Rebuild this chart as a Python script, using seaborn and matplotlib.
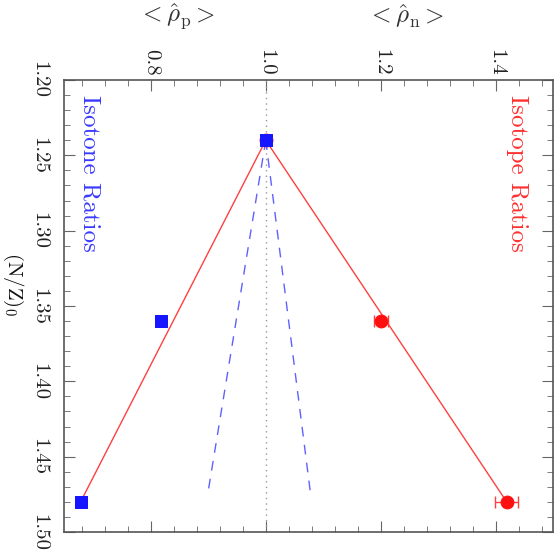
import matplotlib
matplotlib.use("Agg")
import matplotlib.pyplot as plt
import numpy as np
import pandas as pd
import seaborn as sns
from matplotlib.ticker import FixedLocator, MultipleLocator

# datos
nz_pts = [1.24, 1.36, 1.48]
isotone = [1.0, 0.818, 0.678]       # <rho_p>
isotope = [1.0, 1.20, 1.419]        # <rho_n>
isotope_err = [0.0, 0.012, 0.02]

# lineas de ajuste
fit_red_x = [0.678, 1.0, 1.419]
fit_red_y = [1.48, 1.24, 1.48]
dash_left_x = [1.0, 0.899]
dash_right_x = [1.0, 1.078]
dash_y = [1.24, 1.475]

x_ticks = [0.8, 1.0, 1.2, 1.4]
y_ticks = [1.20, 1.25, 1.30, 1.35, 1.40, 1.45, 1.50]

sns.set_style("ticks")
plt.rcParams['font.family'] = ['cmr10', 'DejaVu Serif']
plt.rcParams['mathtext.fontset'] = 'cm'
plt.rcParams['axes.unicode_minus'] = False

fig = plt.figure(figsize=(5.54, 5.54), dpi=100)
ax = fig.add_axes([0.1164, 0.0397, 0.8823, 0.8159])

ax.axvline(1.0, color='#999999', linestyle=(0, (1, 3)), linewidth=1.0, zorder=1)

sns.lineplot(x=fit_red_x, y=fit_red_y, sort=False, estimator=None,
             color='#ff4040', linewidth=1.0, ax=ax, zorder=2)
for dx in (dash_left_x, dash_right_x):
    sns.lineplot(x=dx, y=dash_y, sort=False, estimator=None, color='#6060ff',
                 linewidth=1.0, dashes=False, ax=ax, zorder=2)
    ax.lines[-1].set_linestyle((0, (7, 6)))

ax.errorbar(isotope, nz_pts, xerr=isotope_err, fmt='none', ecolor='#ff4040',
            elinewidth=1.0, capsize=4, zorder=3)
sns.scatterplot(x=isotope, y=nz_pts, marker='o', s=85, color='#ff1010',
                edgecolor='#ff1010', ax=ax, zorder=4)
sns.scatterplot(x=isotone, y=nz_pts, marker='s', s=80, color='#1515ff',
                edgecolor='#1515ff', ax=ax, zorder=5)

ax.set_xlim(0.65, 1.50)
ax.set_ylim(1.50, 1.20)

ax.xaxis.tick_top()
ax.xaxis.set_major_locator(FixedLocator(x_ticks))
ax.xaxis.set_minor_locator(MultipleLocator(0.04))
ax.set_xticklabels([f"{v:.1f}" for v in x_ticks], rotation=-90)
ax.yaxis.set_major_locator(FixedLocator(y_ticks))
ax.yaxis.set_minor_locator(MultipleLocator(0.01))
ax.set_yticklabels([f"{v:.2f}" for v in y_ticks], rotation=-90, va='center')

ax.tick_params(which='both', direction='in', top=True, bottom=True, left=True,
               right=True, color='#666666', labelsize=15, labelcolor='#222222')
ax.tick_params(axis='x', which='major', length=8, pad=3)
ax.tick_params(axis='y', which='major', length=8, pad=12)
ax.tick_params(which='minor', length=4)
for s in ax.spines.values():
    s.set_color('#555555')
    s.set_linewidth(1.2)

ax.set_xlabel('')
ax.set_ylabel('')

ax.text(0.693, 1.21, 'Isotone Ratios', color='#3a3aff', fontsize=18,
        rotation=-90, ha='center', va='top')
ax.text(1.4375, 1.21, 'Isotope Ratios', color='#ff3030', fontsize=18,
        rotation=-90, ha='center', va='top')

fig.text(177 / 554, 1 - 16 / 554, r'$<\hat{\rho}_{\rm p}>$', fontsize=18,
         ha='center', va='center', color='#333333')
fig.text(406 / 554, 1 - 16 / 554, r'$<\hat{\rho}_{\rm n}>$', fontsize=18,
         ha='center', va='center', color='#333333')
fig.text(13 / 554, 1 - 284 / 554, r'$({\rm N/Z})_0$', fontsize=15,
         rotation=-90, ha='center', va='center', color='#111111')

plt.savefig('out.png', dpi=100)
